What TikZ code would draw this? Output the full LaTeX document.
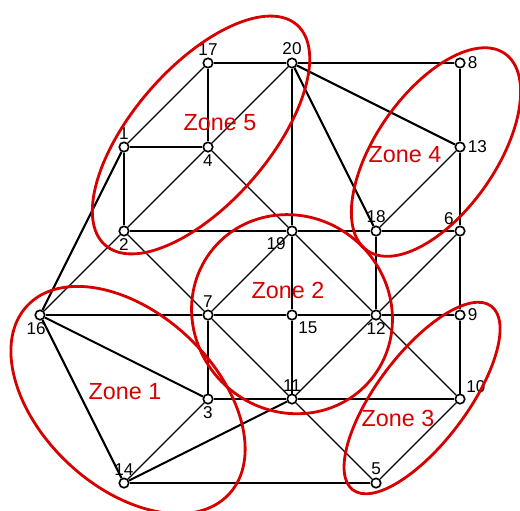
\documentclass[tikz,border=0pt]{standalone}
\usepackage{fontspec}
\setmainfont{Liberation Sans}
\usetikzlibrary{calc,backgrounds}
\definecolor{zonered}{RGB}{215,0,0}
\tikzset{
  vtx/.style={circle, draw, fill=white, line width=0.55pt, inner sep=0pt, minimum size=3.2pt},
  every label/.style={font=\fontsize{5.8}{7}\selectfont, inner sep=0.6pt},
  main/.style={line width=0.7pt},
  diag/.style={line width=0.4pt},
  zone/.style={draw=zonered, line width=0.95pt},
  zonetxt/.style={text=zonered, font=\fontsize{7.9}{9}\selectfont}
}

\begin{document}
\begin{tikzpicture}
    \useasboundingbox (-1.476,-0.321) rectangle (4.714,5.75);
    % junctions
    \foreach \n/\x/\y/\p in {17/1/5/above, 20/2/5/above, 8/4/5/right,
        1/0/4/above, 4/1/4/below, 13/4/4/right,
        2/0/3/below, 19/2/3/below left, 18/3/3/above, 6/4/3/above left,
        7/1/2/above, 15/2/2/below right, 12/3/2/below, 9/4/2/right,
        3/1/1/below, 11/2/1/above, 10/4/1/above right,
        14/0/0/above, 5/3/0/above} {
    \node[vtx, label=\p:\n] (n\n) at (\x,\y) {};
    }
    \node[vtx, label={[xshift=-1.3pt]below:16}] (n16) at (-1,2) {};
    \begin{scope}[on background layer]
    % main lines
    \foreach \a/\b in {17/20, 20/8, 8/13, 13/6, 6/9, 9/10, 17/4, 1/4, 1/2,
        2/19, 19/18, 18/6, 20/19, 19/15, 15/11, 20/13, 20/18, 18/12,
        16/7, 7/15, 15/12, 12/9, 7/3, 16/3, 16/14, 16/1, 3/11, 11/10,
        14/11, 14/5} {
    \draw[main] (n\a) -- (n\b);
    }
    % diagonals
    \foreach \a/\b in {1/17, 2/4, 4/20, 4/19, 2/16, 2/7, 7/19, 19/12, 7/11,
        11/12, 12/6, 12/10, 11/5, 5/10, 14/3, 18/13} {
    \draw[diag] (n\a) -- (n\b);
    }
    \end{scope}
    % zones
    \draw[zone] (0.917,4.143) ellipse [x radius=1.738, y radius=0.81, rotate=49];
    \draw[zone] (3.714,3.94) ellipse [x radius=1.43, y radius=0.714, rotate=55];
    \draw[zone] (2.0,2.01) ellipse [x radius=1.22, y radius=1.16, rotate=-40];
    \draw[zone] (0.048,0.988) ellipse [x radius=1.643, y radius=1.036, rotate=-43];
    \draw[zone] (3.548,1.012) ellipse [x radius=1.369, y radius=0.536, rotate=53];
    \node[zonetxt] (z5) at (1.143,4.286) {Zone 5};
    \node[zonetxt] (z4) at (3.345,3.905) {Zone 4};
    \node[zonetxt] (z2) at (1.952,2.298) {Zone 2};
    \node[zonetxt] (z1) at (0.012,1.083) {Zone 1};
    \node[zonetxt] (z3) at (3.262,0.774) {Zone 3};
\end{tikzpicture}
\end{document}
